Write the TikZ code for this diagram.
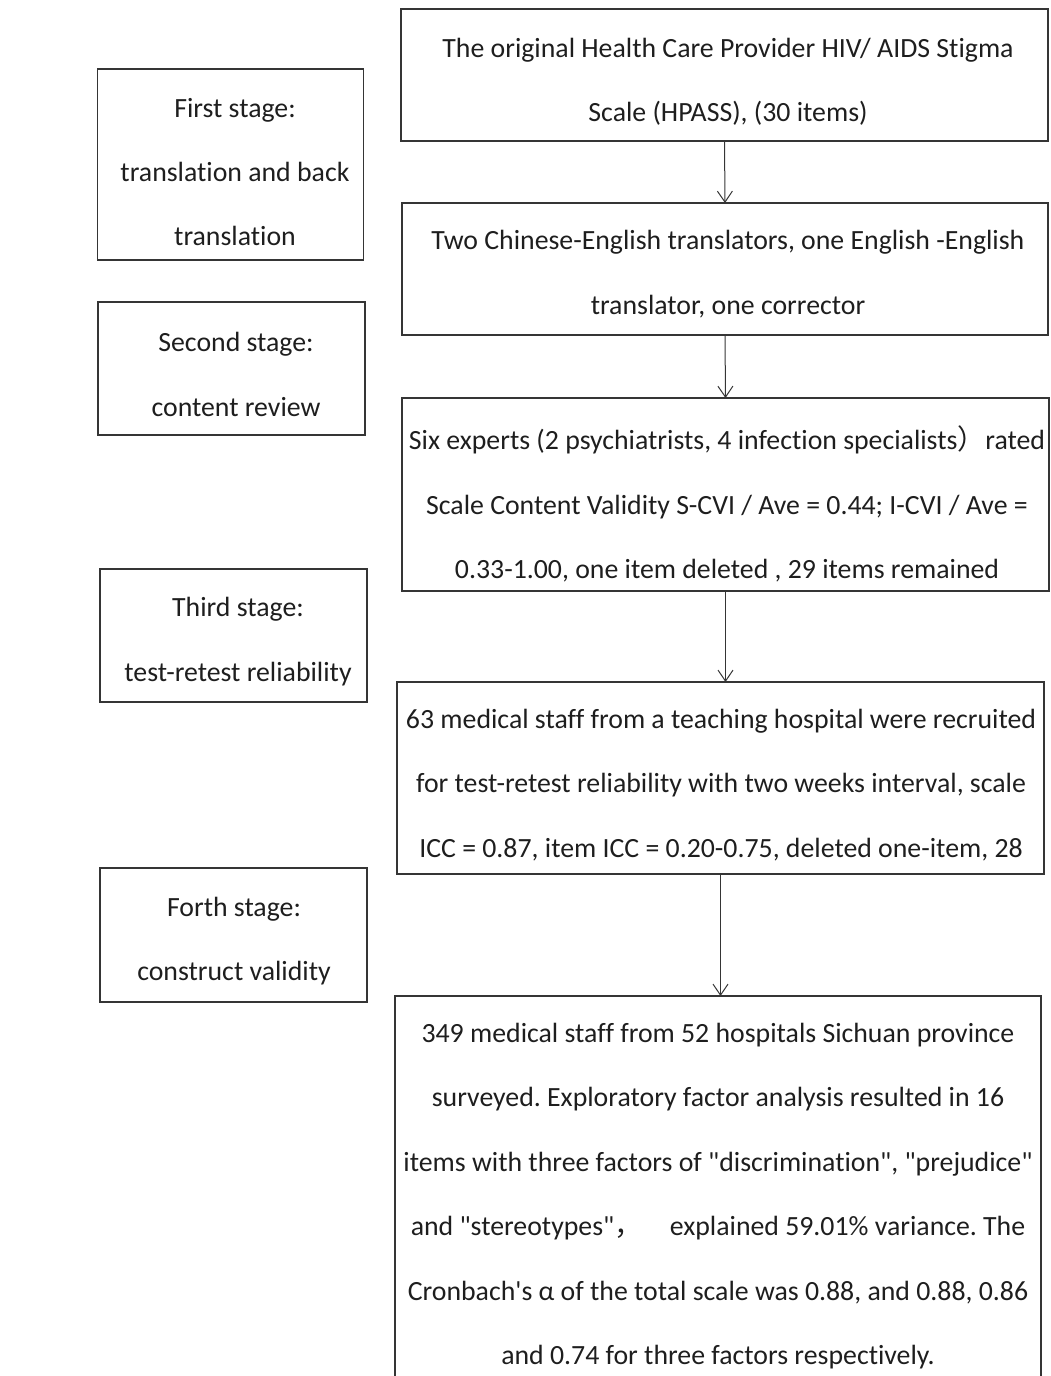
\documentclass[tikz,border=0pt]{standalone}
\usepackage{fontspec}
\setmainfont{Carlito}[Ligatures={NoCommon}]
\newfontfamily\cjk{Noto Sans CJK SC}
\usetikzlibrary{arrows.meta}
\definecolor{ink}{HTML}{1E1E1E}
\newcommand{\dq}{\textquotedbl}
\newcommand{\sq}{\textquotesingle}
\tikzset{
  box/.style={draw=ink!90, line width=1.3pt, inner sep=0pt, outer sep=0pt, rectangle},
  txt/.style={text=ink, align=center, inner sep=0pt, font=\fontsize{27.8}{64.4}\selectfont\frenchspacing},
  arr/.style={draw=ink!90, line width=1pt, -{Straight Barb[length=11pt,width=15pt,line width=1pt]}}
}
\begin{document}
\begin{tikzpicture}[x=1pt,y=-1pt]
\useasboundingbox (0,0) rectangle (1050,1376);
% right column boxes
\node[box, minimum width=647pt, minimum height=132pt] (b1) at (724.5,75) {};
\node[box, minimum width=646pt, minimum height=132pt] (b2) at (725,269) {};
\node[box, minimum width=647pt, minimum height=193pt] (b3) at (725.5,494.5) {};
\node[box, minimum width=647pt, minimum height=192pt] (b4) at (720.5,778) {};
\node[box, minimum width=646pt, minimum height=420pt] (b5) at (718,1206) {};
% left column boxes
\node[box, minimum width=266pt, minimum height=191pt] (l1) at (230.5,164.5) {};
\node[box, minimum width=267pt, minimum height=133pt] (l2) at (231.5,368.5) {};
\node[box, minimum width=267pt, minimum height=133pt] (l3) at (233.5,635.5) {};
\node[box, minimum width=267pt, minimum height=134pt] (l4) at (233.5,935) {};
% texts
\node[txt] (t1) at (728,81.5) {The original Health Care Provider HIV/ AIDS Stigma\\Scale (HPASS), (30 items)};
\node[txt] (t2) at (728,274) {Two Chinese-English translators, one English -English\\translator, one corrector};
\node[txt] (t3) at (727,504) {Six experts (2 psychiatrists, 4 infection specialists{\cjk ）}rated\\Scale Content Validity S-CVI / Ave = 0.44; I-CVI / Ave =\\0.33-1.00, one item deleted , 29 items remained};
\node[txt] (t4) at (721,785) {63 medical staff from a teaching hospital were recruited\\for test-retest reliability with two weeks interval, scale\\ICC = 0.87, item ICC = 0.20-0.75, deleted one-item, 28};
\node[txt] (t5) at (718,1196) {349 medical staff from 52 hospitals Sichuan province\\surveyed. Exploratory factor analysis resulted in 16\\items with three factors of \dq discrimination\dq, \dq prejudice\dq\\and \dq stereotypes\dq{\cjk ，}\quad explained 59.01\% variance. The\\Cronbach\sq s α of the total scale was 0.88, and 0.88, 0.86\\and 0.74 for three factors respectively.};
\node[txt] (s1) at (235,172) {First stage:\\translation and back\\translation};
\node[txt] (s2) at (236,374.5) {Second stage:\\content review};
\node[txt] (s3) at (238,641.5) {Third stage:\\test-retest reliability};
\node[txt] (s4) at (234,941) {Forth stage:\\construct validity};
% arrows
\draw[arr] (b1.south) -- (b2.north);
\draw[arr] (b2.south) -- (b3.north);
\draw[arr] (b3.south) -- (b3.south |- b4.north);
\draw[arr] (b4.south) -- (b4.south |- b5.north);
\end{tikzpicture}
\end{document}
